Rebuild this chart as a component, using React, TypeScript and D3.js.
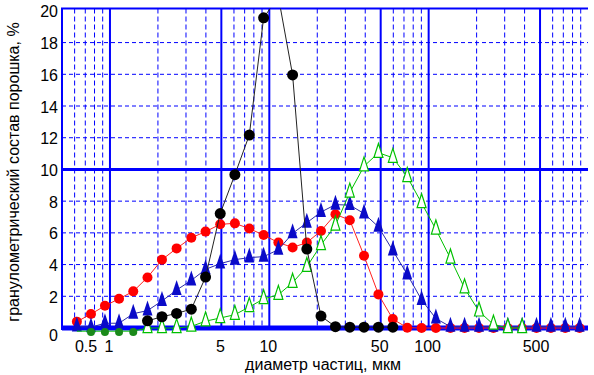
import React, { Component } from "react";
import * as d3 from "d3";

// particle size classes, mkm
const sizes = [0.62, 0.76, 0.93, 1.14, 1.4, 1.72, 2.12, 2.62, 3.24, 3.98, 4.92, 6.08, 7.49, 9.21, 11.4, 14, 17.2, 21.1, 26, 32, 39.3, 48.4, 59.6, 73.4, 90.3, 111, 137, 168, 207, 255, 314, 386, 475, 585, 720, 886];

// content of each powder, %
const redValues = [0.4, 0.88, 1.4, 1.84, 2.31, 3.19, 4.31, 5.02, 5.69, 6.08, 6.54, 6.6, 6.27, 5.86, 5.39, 5.08, 5.39, 6.12, 7.17, 6.8, 4.56, 2.12, 0.56, 0.02, 0, 0, 0, 0, 0, 0, 0, 0, 0, 0, 0, 0];
const blueValues = [0.1, 0.05, 0.3, 0.3, 0.9, 1.1, 1.7, 2.4, 3.0, 3.7, 4.06, 4.31, 4.44, 4.5, 4.94, 5.97, 6.64, 7.31, 7.78, 7.75, 7.22, 6.38, 4.88, 3.38, 1.77, 0.6, 0.08, 0.08, 0.08, 0.08, 0.08, 0.08, 0.08, 0.08, 0.08, 0.08];
const greenValues = [-0.2, -0.2, -0.2, -0.2, -0.2, 0, 0, 0, 0.1, 0.43, 0.63, 0.84, 1.33, 1.83, 2.1, 2.86, 3.86, 5.24, 6.47, 8.55, 10.2, 11.05, 10.74, 9.53, 7.88, 6.22, 4.39, 2.51, 1.05, 0.22, 0, 0];
const greenDotValues = [null, -0.25, -0.25, -0.25, -0.25];
const blackValues = [null, null, null, null, null, 0.45, 0.71, 0.92, 1.19, 3.21, 7.22, 9.67, 12.17, 19.56, 20.9, 15.96, 4.98, 0.75, 0.08, 0.05, 0.05, 0.05, 0.05];

const xTicks = [0.5, 1, 5, 10, 50, 100, 500];
const xMajor = [1, 5, 10, 50, 100, 500];
const yTicks = [0, 2, 4, 6, 8, 10, 12, 14, 16, 18, 20];

const xTitle = "диаметр частиц, мкм";
const yTitle = "гранулометрический состав порошка, %";

type Pt = { s: number; v: number };

function toPoints(vals: (number | null)[]): Pt[] {
  const out: Pt[] = [];
  vals.forEach((v, i) => {
    if (v !== null && v !== undefined) out.push({ s: sizes[i], v });
  });
  return out;
}

class GranChart extends Component {
  ref = React.createRef<SVGSVGElement>();

  componentDidMount() {
    document.body.style.margin = "0";
    this.drawChart();
  }

  drawChart() {
    const svg = d3.select(this.ref.current);
    svg.selectAll("*").remove();

    const font = "'Liberation Sans', Arial, sans-serif";
    const blue = "#0000ff";

    const x = d3.scaleLog().domain([0.5, 1000]).range([62, 588]);
    const y = d3.scaleLinear().domain([0, 20.15]).range([328, 8.5]);
    const [x0, x1] = x.range();
    const [yb, yt] = y.range();

    svg.append("defs").append("clipPath").attr("id", "plot")
      .append("rect").attr("x", x0).attr("y", yt).attr("width", x1 - x0).attr("height", 375 - yt);

    const grid = svg.append("g");

    // minor vertical grid
    const minor = x.ticks().filter(t => t > 0.5 && t < 1000 && !xMajor.some(m => Math.abs(m - t) < 1e-6));
    grid.selectAll(".vminor").data(minor).enter().append("line")
      .attr("x1", d => x(d)).attr("x2", d => x(d))
      .attr("y1", yt).attr("y2", yb)
      .attr("stroke", blue).attr("stroke-width", 1).attr("stroke-dasharray", "5,3");

    // minor horizontal grid
    grid.selectAll(".hminor").data(yTicks.filter(t => t !== 0 && t !== 10 && t !== 20)).enter().append("line")
      .attr("x1", x0).attr("x2", x1)
      .attr("y1", d => y(d)).attr("y2", d => y(d))
      .attr("stroke", blue).attr("stroke-width", 1).attr("stroke-dasharray", "4,3");

    // major vertical grid
    grid.selectAll(".vmajor").data(xMajor).enter().append("line")
      .attr("x1", d => x(d)).attr("x2", d => x(d))
      .attr("y1", yt).attr("y2", yb)
      .attr("stroke", blue).attr("stroke-width", 2);

    grid.append("line").attr("x1", x0).attr("x2", x1).attr("y1", y(10)).attr("y2", y(10))
      .attr("stroke", blue).attr("stroke-width", 3);
    grid.append("line").attr("x1", x0 - 1).attr("x2", x1).attr("y1", yt).attr("y2", yt)
      .attr("stroke", blue).attr("stroke-width", 2);
    grid.append("line").attr("x1", x0).attr("x2", x0).attr("y1", yt).attr("y2", yb + 2)
      .attr("stroke", blue).attr("stroke-width", 2);
    grid.append("line").attr("x1", x0).attr("x2", x1).attr("y1", y(0)).attr("y2", y(0))
      .attr("stroke", blue).attr("stroke-width", 5);

    // tick labels
    svg.append("g").selectAll("text").data(yTicks).enter().append("text")
      .attr("x", 58).attr("y", d => y(d) + (d === 0 ? 13 : 6.5))
      .attr("text-anchor", "end").attr("font-family", font).attr("font-size", 16)
      .text(d => String(d));

    svg.append("g").selectAll("text").data(xTicks).enter().append("text")
      .attr("x", d => x(d) + (d === 0.5 ? 24 : d === 500 ? -4 : -1)).attr("y", 352)
      .attr("text-anchor", "middle").attr("font-family", font).attr("font-size", 16)
      .text(d => String(d));

    svg.append("text").attr("x", 323).attr("y", 370)
      .attr("text-anchor", "middle").attr("font-family", font).attr("font-size", 16)
      .text(xTitle);

    svg.append("text").attr("transform", "translate(19,172) rotate(-90)")
      .attr("text-anchor", "middle").attr("font-family", font).attr("font-size", 16)
      .text(yTitle);

    const line = d3.line<Pt>().x(d => x(d.s)).y(d => y(d.v));
    const plot = svg.append("g").attr("clip-path", "url(#plot)");

    const tri = (w: number, h: number) => (d: Pt) => {
      const cx = x(d.s), cy = y(d.v);
      return `M${cx},${cy - h * 2 / 3}L${cx + w / 2},${cy + h / 3}L${cx - w / 2},${cy + h / 3}Z`;
    };

    // red
    const red = toPoints(redValues);
    plot.append("path").datum(red).attr("d", line).attr("fill", "none").attr("stroke", "#ff2020").attr("stroke-width", 1);
    plot.selectAll(".rdot").data(red).enter().append("circle")
      .attr("cx", d => x(d.s)).attr("cy", d => y(d.v)).attr("r", 5).attr("fill", "#ff0000");

    // blue
    const bl = toPoints(blueValues);
    plot.append("path").datum(bl).attr("d", line).attr("fill", "none").attr("stroke", "#2a2aa8").attr("stroke-width", 1);
    plot.selectAll(".btri").data(bl).enter().append("path")
      .attr("d", tri(10, 15)).attr("fill", "#0a0ac8");

    // green
    const gr = toPoints(greenValues);
    plot.append("path").datum(gr).attr("d", line).attr("fill", "none").attr("stroke", "#00c000").attr("stroke-width", 1);
    plot.selectAll(".gdot").data(toPoints(greenDotValues)).enter().append("circle")
      .attr("cx", d => x(d.s)).attr("cy", d => y(d.v)).attr("r", 4).attr("fill", "#1a8a1a");
    plot.selectAll(".gtri").data(gr.filter(d => d.v >= 0)).enter().append("path")
      .attr("d", tri(9, 14)).attr("fill", "#ffffff").attr("stroke", "#00c000").attr("stroke-width", 1.2);

    // black
    const bk = toPoints(blackValues);
    plot.append("path").datum(bk).attr("d", line).attr("fill", "none").attr("stroke", "#222").attr("stroke-width", 1);
    plot.selectAll(".kdot").data(bk).enter().append("circle")
      .attr("cx", d => x(d.s)).attr("cy", d => y(d.v)).attr("r", 5.5).attr("fill", "#000");
  }

  render() {
    return <svg ref={this.ref} width={594} height={375} style={{ display: "block", background: "#fff" }} />;
  }
}

export default function App() {
  return <GranChart />;
}
